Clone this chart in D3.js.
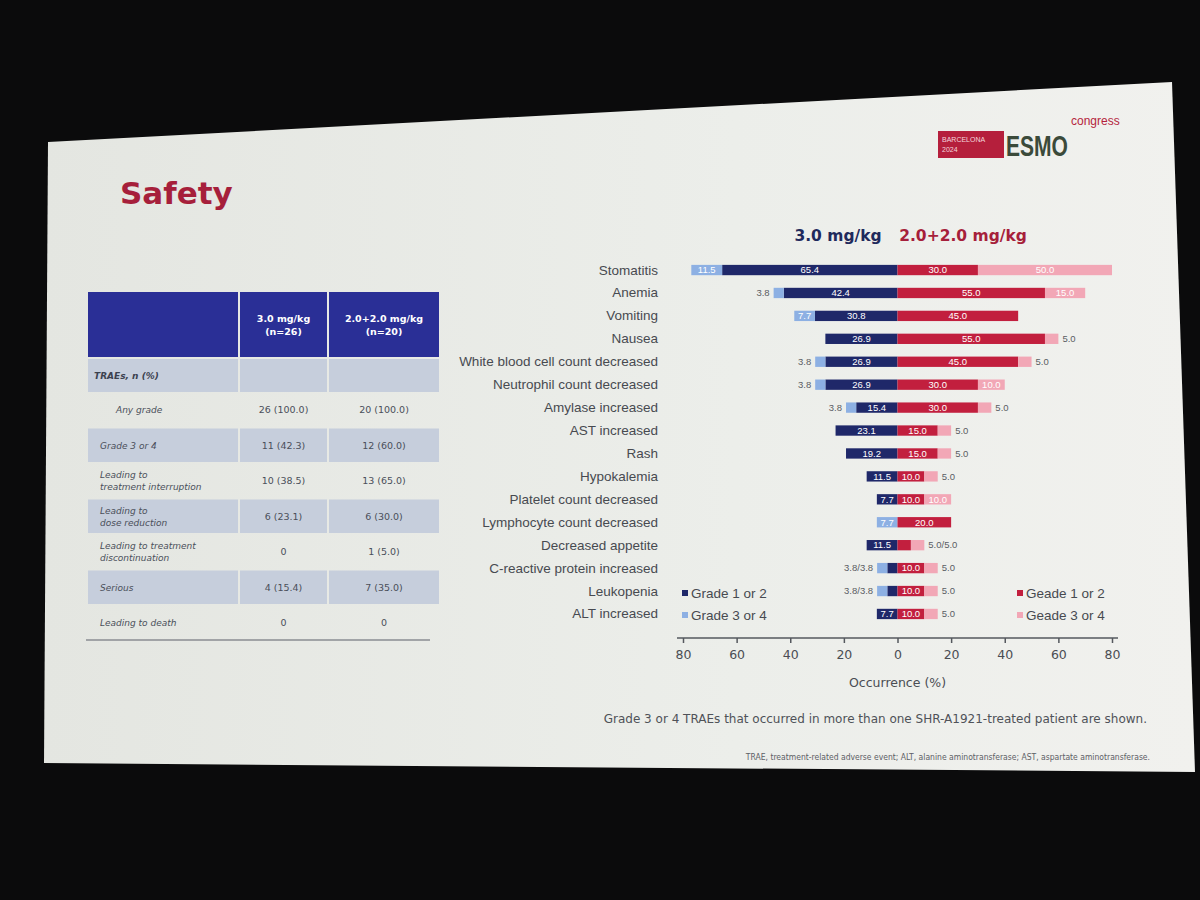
<!DOCTYPE html>
<html>
<head>
<meta charset="utf-8">
<script src="https://cdn.jsdelivr.net/npm/d3@7"></script>
<style>
  body { margin: 0; background: #0b0b0c; }
  svg { display: block; }
</style>
</head>
<body>
<div id="slide"></div>
<script>
(function() {
	// adverse events, top to bottom
	var categories = ['Stomatitis', 'Anemia', 'Vomiting', 'Nausea', 'White blood cell count decreased',
		'Neutrophil count decreased', 'Amylase increased', 'AST increased', 'Rash', 'Hypokalemia',
		'Platelet count decreased', 'Lymphocyte count decreased', 'Decreased appetite',
		'C-reactive protein increased', 'Leukopenia', 'ALT increased'];

	// 3.0 mg/kg (left side), % of patients
	var lowGrade12 = [65.4, 42.4, 30.8, 26.9, 26.9, 26.9, 15.4, 23.1, 19.2, 11.5, 7.7, 0, 11.5, 3.8, 3.8, 7.7];
	var lowGrade34 = [11.5, 3.8, 7.7, 0, 3.8, 3.8, 3.8, 0, 0, 0, 0, 7.7, 0, 3.8, 3.8, 0];
	// 2.0+2.0 mg/kg (right side)
	var highGrade12 = [30.0, 55.0, 45.0, 55.0, 45.0, 30.0, 30.0, 15.0, 15.0, 10.0, 10.0, 20.0, 5.0, 10.0, 10.0, 10.0];
	var highGrade34 = [50.0, 15.0, 0, 5.0, 5.0, 10.0, 5.0, 5.0, 5.0, 5.0, 10.0, 0, 5.0, 5.0, 5.0, 5.0];

	var axisTicks = [-80, -60, -40, -20, 0, 20, 40, 60, 80];

	// summary table
	var tableHeads = [['3.0 mg/kg', '(n=26)'], ['2.0+2.0 mg/kg', '(n=20)']];
	var tableLabels = [['Any grade'], ['Grade 3 or 4'], ['Leading to', 'treatment interruption'],
		['Leading to', 'dose reduction'], ['Leading to treatment', 'discontinuation'], ['Serious'], ['Leading to death']];
	var tableLow = ['26 (100.0)', '11 (42.3)', '10 (38.5)', '6 (23.1)', '0', '4 (15.4)', '0'];
	var tableHigh = ['20 (100.0)', '12 (60.0)', '13 (65.0)', '6 (30.0)', '1 (5.0)', '7 (35.0)', '0'];

	var colors = {
		low12: '#1f2869',
		low34: '#8db0e3',
		high12: '#c21f3e',
		high34: '#f2a7b6',
		crimson: '#a61f3b'
	};

	var width = 1200;
	var height = 900;
	var svg = d3.select('#slide').append('svg')
		.attr('width', width)
		.attr('height', height);

	function buildSlide() {
		var grad = svg.append('defs').append('linearGradient')
			.attr('id', 'screen')
			.attr('x1', '0').attr('x2', '1').attr('y1', '0').attr('y2', '0');
		grad.append('stop').attr('offset', '0').attr('stop-color', '#e4e6e1');
		grad.append('stop').attr('offset', '0.6').attr('stop-color', '#eceeea');
		grad.append('stop').attr('offset', '1').attr('stop-color', '#f1f1ee');

		svg.append('rect').attr('width', width).attr('height', height).attr('fill', '#0b0b0c');
		svg.append('polygon')
			.attr('points', '48,142 1172,82 1195,772 44,763')
			.attr('fill', 'url(#screen)');

		svg.append('text')
			.attr('x', 120).attr('y', 204)
			.attr('font-family', 'DejaVu Sans')
			.attr('font-weight', 'bold')
			.attr('font-size', 31)
			.attr('fill', colors.crimson)
			.text('Safety');

		// congress logo
		var logo = svg.append('g').attr('transform', 'translate(938,131)');
		logo.append('rect').attr('width', 66).attr('height', 27).attr('fill', '#b51f3c');
		logo.append('text').attr('x', 4).attr('y', 11).attr('font-family', 'Liberation Sans')
			.attr('font-size', 7).attr('fill', '#f3d6dc').text('BARCELONA');
		logo.append('text').attr('x', 4).attr('y', 21).attr('font-family', 'Liberation Sans')
			.attr('font-size', 7).attr('fill', '#f3d6dc').text('2024');
		logo.append('text').attr('x', 68).attr('y', 25).attr('font-family', 'Liberation Sans Narrow, Liberation Sans')
			.attr('font-weight', 'bold').attr('font-size', 29).attr('fill', '#3b4a3a')
			.attr('textLength', 62).attr('lengthAdjust', 'spacingAndGlyphs').text('ESMO');
		logo.append('text').attr('x', 133).attr('y', -6).attr('font-family', 'Liberation Sans')
			.attr('font-size', 12).attr('fill', '#b51f3c').text('congress');
	}

	function buildTable() {
		var g = svg.append('g').attr('font-family', 'DejaVu Sans').attr('font-size', 9.5);
		var cols = [88, 240, 329];
		var colW = [150, 87, 110];
		var headTop = 292, headH = 65;

		cols.forEach(function(x, i) {
			g.append('rect').attr('x', x).attr('y', headTop).attr('width', colW[i]).attr('height', headH)
				.attr('fill', '#2a2f96');
		});
		tableHeads.forEach(function(lines, i) {
			var cx = cols[i + 1] + colW[i + 1] / 2;
			lines.forEach(function(t, j) {
				g.append('text').attr('x', cx).attr('y', 322 + j * 13).attr('text-anchor', 'middle')
					.attr('font-weight', 'bold').attr('fill', '#ffffff').text(t);
			});
		});

		// TRAEs row
		cols.forEach(function(x, i) {
			g.append('rect').attr('x', x).attr('y', headTop + headH + 2).attr('width', colW[i]).attr('height', 33)
				.attr('fill', '#c6cedc');
		});
		g.append('text').attr('x', 94).attr('y', 379).attr('font-weight', 'bold').attr('font-style', 'italic')
			.attr('font-size', 9).attr('fill', '#3c4250').text('TRAEs, n (%)');

		var rowTop = 392;
		var rowH = 35.5;
		tableLabels.forEach(function(lines, r) {
			var y0 = rowTop + r * rowH;
			var cy = y0 + rowH / 2;
			if (r % 2 === 1) {
				cols.forEach(function(x, i) {
					g.append('rect').attr('x', x).attr('y', y0 + 1).attr('width', colW[i]).attr('height', rowH - 2)
						.attr('fill', '#c6cedc');
				});
			}
			var lx = r === 0 ? 116 : 100;
			lines.forEach(function(t, j) {
				g.append('text').attr('x', lx).attr('y', cy + 3.5 + (j - (lines.length - 1) / 2) * 12)
					.attr('font-style', 'italic').attr('font-size', 9).attr('fill', '#4a4f5a').text(t);
			});
			g.append('text').attr('x', cols[1] + colW[1] / 2).attr('y', cy + 3.5).attr('text-anchor', 'middle')
				.attr('fill', '#4a4f5a').text(tableLow[r]);
			g.append('text').attr('x', cols[2] + colW[2] / 2).attr('y', cy + 3.5).attr('text-anchor', 'middle')
				.attr('fill', '#4a4f5a').text(tableHigh[r]);
		});
		g.append('line').attr('x1', 86).attr('x2', 430).attr('y1', 640).attr('y2', 640)
			.attr('stroke', '#8a8d92').attr('stroke-width', 1.5);
	}

	function buildChart() {
		var x = d3.scaleLinear().domain([-80, 80]).range([683, 1112]);
		var y = d3.scaleBand().domain(categories).range([258, 626]).paddingInner(0.55).paddingOuter(0.3);
		var g = svg.append('g').attr('font-family', 'Liberation Sans');

		g.append('text').attr('x', 838).attr('y', 241).attr('text-anchor', 'middle')
			.attr('font-family', 'DejaVu Sans').attr('font-weight', 'bold').attr('font-size', 15.5)
			.attr('fill', '#1f2a5c').text('3.0 mg/kg');
		g.append('text').attr('x', 963).attr('y', 241).attr('text-anchor', 'middle')
			.attr('font-family', 'DejaVu Sans').attr('font-weight', 'bold').attr('font-size', 15.5)
			.attr('fill', colors.crimson).text('2.0+2.0 mg/kg');

		g.selectAll('.cat').data(categories).enter().append('text')
			.attr('class', 'cat')
			.attr('x', 658)
			.attr('y', function(d) { return y(d) + y.bandwidth() / 2 + 4.5; })
			.attr('text-anchor', 'end')
			.attr('font-size', 13.5)
			.attr('fill', '#474a50')
			.text(function(d) { return d; });

		// stacked segments: 1-2 next to zero, 3-4 outside
		var segs = [];
		categories.forEach(function(c, i) {
			segs.push({ cat: c, side: -1, x0: 0, x1: lowGrade12[i], v: lowGrade12[i], fill: colors.low12 });
			segs.push({ cat: c, side: -1, x0: lowGrade12[i], x1: lowGrade12[i] + lowGrade34[i], v: lowGrade34[i], fill: colors.low34 });
			segs.push({ cat: c, side: 1, x0: 0, x1: highGrade12[i], v: highGrade12[i], fill: colors.high12 });
			segs.push({ cat: c, side: 1, x0: highGrade12[i], x1: highGrade12[i] + highGrade34[i], v: highGrade34[i], fill: colors.high34 });
		});
		segs = segs.filter(function(s) { return s.v > 0; });

		g.selectAll('.seg').data(segs).enter().append('rect')
			.attr('class', 'seg')
			.attr('x', function(s) { return Math.min(x(s.side * s.x0), x(s.side * s.x1)); })
			.attr('width', function(s) { return Math.abs(x(s.side * s.x1) - x(s.side * s.x0)); })
			.attr('y', function(s) { return y(s.cat); })
			.attr('height', y.bandwidth())
			.attr('fill', function(s) { return s.fill; });

		g.selectAll('.inlab').data(segs.filter(function(s) { return s.v >= 7; })).enter().append('text')
			.attr('class', 'inlab')
			.attr('x', function(s) { return x(s.side * (s.x0 + s.x1) / 2); })
			.attr('y', function(s) { return y(s.cat) + y.bandwidth() / 2 + 3.3; })
			.attr('text-anchor', 'middle')
			.attr('font-size', 9.5)
			.attr('fill', '#ffffff')
			.text(function(s) { return s.v.toFixed(1); });

		// small values sit outside the bar end, joined with a slash
		var outside = [];
		categories.forEach(function(c, i) {
			[-1, 1].forEach(function(side) {
				var small = segs.filter(function(s) { return s.cat === c && s.side === side && s.v < 7; });
				if (!small.length) return;
				var end = d3.max(segs.filter(function(s) { return s.cat === c && s.side === side; }), function(s) { return s.x1; });
				outside.push({ cat: c, side: side, end: end, text: small.map(function(s) { return s.v.toFixed(1); }).join('/') });
			});
		});
		g.selectAll('.outlab').data(outside).enter().append('text')
			.attr('class', 'outlab')
			.attr('x', function(o) { return x(o.side * o.end) + o.side * 4; })
			.attr('y', function(o) { return y(o.cat) + y.bandwidth() / 2 + 3.3; })
			.attr('text-anchor', function(o) { return o.side < 0 ? 'end' : 'start'; })
			.attr('font-size', 9.5)
			.attr('fill', '#5a5d63')
			.text(function(o) { return o.text; });

		var axis = g.append('g')
			.attr('transform', 'translate(0,638)')
			.call(d3.axisBottom(x).tickValues(axisTicks).tickSize(5).tickSizeOuter(0)
				.tickFormat(function(d) { return Math.abs(d); }));
		axis.select('.domain').attr('stroke', '#55585e').attr('stroke-width', 1.5)
			.attr('d', 'M' + (x(-80) - 6) + ',0H' + (x(80) + 6));
		axis.selectAll('.tick line').attr('stroke', '#55585e').attr('stroke-width', 1.5);
		axis.selectAll('.tick text').attr('font-family', 'DejaVu Sans').attr('font-size', 12.5)
			.attr('fill', '#4a4d53').attr('dy', '1.0em');

		g.append('text').attr('x', x(0)).attr('y', 687).attr('text-anchor', 'middle')
			.attr('font-family', 'DejaVu Sans').attr('font-size', 12.5).attr('fill', '#4a4d53')
			.text('Occurrence (%)');

		// legends
		var legL = [['Grade 1 or 2', colors.low12], ['Grade 3 or 4', colors.low34]];
		var legR = [['Geade 1 or 2', colors.high12], ['Geade 3 or 4', colors.high34]];
		[[legL, 682], [legR, 1017]].forEach(function(pair) {
			pair[0].forEach(function(item, i) {
				var ly = 594 + i * 22;
				g.append('rect').attr('x', pair[1]).attr('y', ly - 4).attr('width', 6).attr('height', 6).attr('fill', item[1]);
				g.append('text').attr('x', pair[1] + 9).attr('y', ly + 4).attr('font-size', 13.5)
					.attr('fill', '#474a50').text(item[0]);
			});
		});

		svg.append('text').attr('x', 1147).attr('y', 723).attr('text-anchor', 'end')
			.attr('font-family', 'DejaVu Sans').attr('font-size', 12).attr('fill', '#4f5258')
			.text('Grade 3 or 4 TRAEs that occurred in more than one SHR-A1921-treated patient are shown.');
		svg.append('text').attr('x', 1150).attr('y', 760).attr('text-anchor', 'end')
			.attr('font-family', 'DejaVu Sans Condensed, DejaVu Sans').attr('font-size', 8.5).attr('fill', '#5d6066')
			.text('TRAE, treatment-related adverse event; ALT, alanine aminotransferase;  AST, aspartate aminotransferase.');
	}

	buildSlide();
	buildTable();
	buildChart();
}());
</script>
</body>
</html>
